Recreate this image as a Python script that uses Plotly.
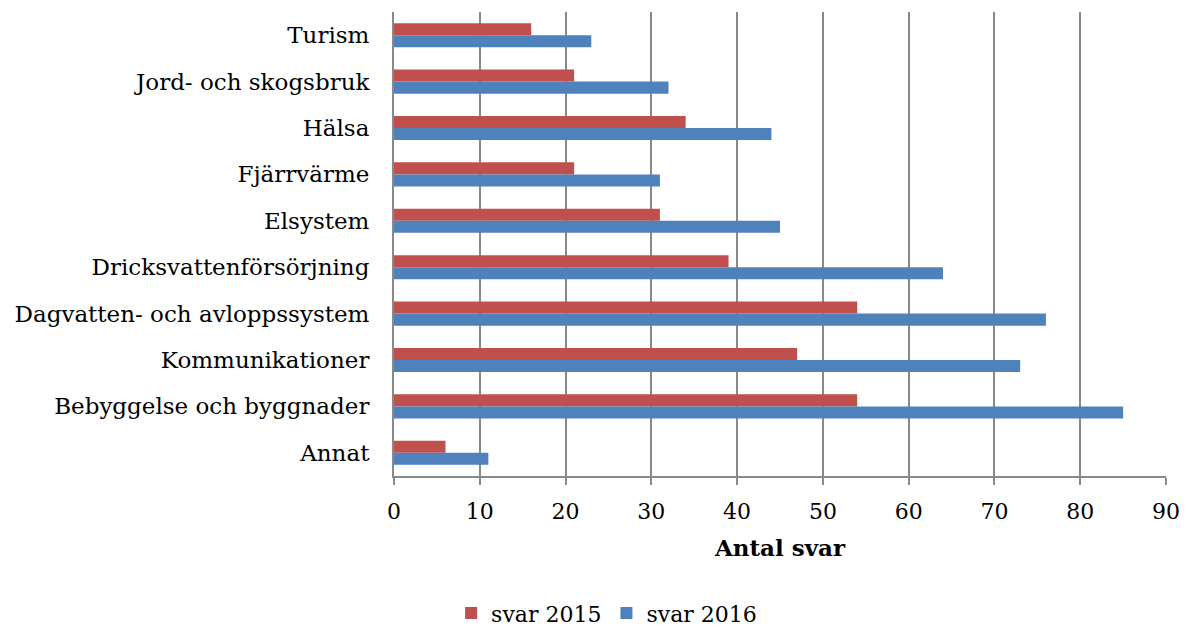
import plotly.graph_objects as go

categories = ["Turism", "Jord- och skogsbruk", "Hälsa", "Fjärrvärme", "Elsystem",
              "Dricksvattenförsörjning", "Dagvatten- och avloppssystem",
              "Kommunikationer", "Bebyggelse och byggnader", "Annat"]
svar_2015 = [16, 21, 34, 21, 31, 39, 54, 47, 54, 6]
svar_2016 = [23, 32, 44, 31, 45, 64, 76, 73, 85, 11]
x_ticks = [0, 10, 20, 30, 40, 50, 60, 70, 80, 90]

FONT = "DejaVu Serif"

fig = go.Figure()
fig.add_trace(go.Bar(y=categories, x=svar_2015, name="svar 2015", orientation="h",
                     marker=dict(color="#C0504D", line=dict(width=0))))
fig.add_trace(go.Bar(y=categories, x=svar_2016, name="svar 2016", orientation="h",
                     marker=dict(color="#4F81BD", line=dict(width=0))))

fig.update_layout(
    width=1183, height=624,
    margin=dict(l=386, r=25, t=4, b=156, autoexpand=False),
    paper_bgcolor="white", plot_bgcolor="white",
    barmode="group", bargap=0.48, bargroupgap=0,
    font=dict(family=FONT, size=22, color="black"),
    showlegend=True,
    legend=dict(orientation="h", xref="container", x=0.506, xanchor="center",
                yref="container", y=0.03, yanchor="middle",
                font=dict(family=FONT, size=22), itemwidth=30, traceorder="normal"),
    xaxis=dict(range=[0, 90], tickvals=x_ticks, ticktext=[str(v) for v in x_ticks],
               showgrid=True, gridcolor="#898989", gridwidth=2,
               showline=True, linecolor="#898989", linewidth=2,
               ticks="outside", ticklen=7, tickcolor="#898989", tickwidth=2,
               tickfont=dict(family=FONT, size=22), zeroline=False, automargin=False,
               ticklabelstandoff=8,
               title=dict(text="<b>Antal svar</b>", font=dict(family=FONT, size=23), standoff=16)),
    yaxis=dict(autorange="reversed", showline=True, linecolor="#898989", linewidth=2,
               ticks="", tickfont=dict(family=FONT, size=23), showgrid=False,
               ticklabelstandoff=18, automargin=False),
)
fig.write_html("out.html")
